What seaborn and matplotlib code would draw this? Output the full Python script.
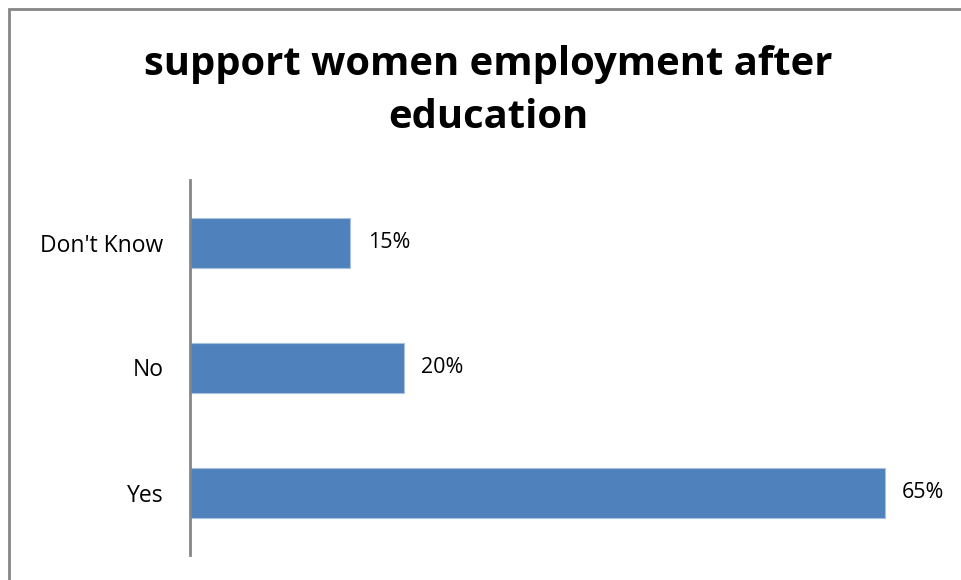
import matplotlib
matplotlib.use("Agg")
import matplotlib.pyplot as plt
import seaborn as sns
import pandas as pd
from matplotlib.patches import Rectangle

# Survey responses
categories = ["Don't Know", "No", "Yes"]
percentages = [15, 20, 65]
value_labels = ["15%", "20%", "65%"]

sns.set_style("white")
plt.rcParams["font.family"] = ["Open Sans", "DejaVu Sans"]

df = pd.DataFrame({"answer": categories, "pct": percentages})

fig = plt.figure(figsize=(9.61, 5.80), dpi=100)
ax = fig.add_axes([190 / 961, 1 - 555 / 580, 748 / 961, 375 / 580])

sns.barplot(data=df, x="pct", y="answer", order=categories, orient="h",
            color="#4F81BD", saturation=1, width=0.4,
            edgecolor="#A9C0DF", linewidth=0.8, ax=ax)

ax.set_xlim(0, 70)
ax.set_ylim(2.5, -0.5)
ax.set_xlabel("")
ax.set_ylabel("")
ax.set_xticks([])
for side in ["top", "right", "bottom"]:
    ax.spines[side].set_visible(False)
ax.spines["left"].set_color("#868686")
ax.spines["left"].set_linewidth(2)
ax.tick_params(axis="y", length=0, pad=19, labelsize=16.5, labelcolor="black")

for i, (v, lab) in enumerate(zip(percentages, value_labels)):
    ax.annotate(lab, xy=(v, i), xytext=(12.5, 0), textcoords="offset points",
                va="center", ha="left", fontsize=15.5, color="black")

fig.text(488 / 961, 1 - 91 / 580, "support women employment after\neducation",
         ha="center", va="center", fontsize=28.8, fontweight="bold",
         linespacing=1.48, color="black")

# chart frame (partly cropped on right and bottom)
fig.patches.append(Rectangle((8.5 / 961, -0.1), 1.2, 1 - 9.5 / 580 + 0.1,
                             transform=fig.transFigure, fill=False,
                             edgecolor="#868686", linewidth=2))

fig.savefig("out.png", dpi=100)
